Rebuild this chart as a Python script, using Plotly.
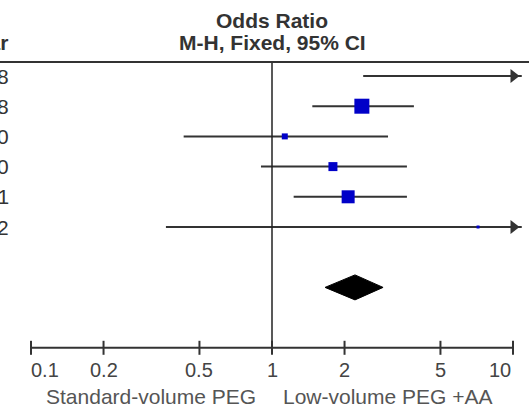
import math
import plotly.graph_objects as go

# ---- data ----
years = ["2008", "2008", "2010", "2010", "2011", "2012"]
or_est = [None, 2.36, 1.13, 1.79, 2.07, 7.16]     # study odds ratio (row 1 off-scale)
ci_low = [2.39, 1.47, 0.43, 0.90, 1.23, 0.363]
ci_high = [None, 3.88, 3.03, 3.63, 3.63, None]     # None = beyond 10 (arrow)
weight_size = [0, 15, 6, 9, 13, 3]                 # marker size reflects study weight
pooled = dict(est=2.21, low=1.66, high=2.89)

tick_vals = [0.1, 0.2, 0.5, 1, 2, 5, 10]
tick_text = ["0.1", "0.2", "0.5", "1", "2", "5", "10"]
left_label = "Standard-volume PEG"
right_label = "Low-volume PEG +AA"
title1 = "Odds Ratio"
title2 = "M-H, Fixed, 95% CI"
col_header = "Year"

# ---- layout geometry ----
W, H = 529, 409
X_RANGE = [-1.1286, 1.0664]          # log10 range
PITCH, ROW0 = 30.2, 76.0
Y_RANGE = [(H - ROW0) / PITCH, -ROW0 / PITCH]
AXIS_ROW = 9.0
POOLED_ROW = 7.0
TOP_ROW = -0.46
FONT = "Liberation Sans, Arial, sans-serif"
LINE_COL = "#333333"
BLUE = "#0000c8"
ARROW_END = 10 ** (X_RANGE[1] - 0.03)
ARROW_HEAD = 10 ** (1 + 0.5 / 241)

fig = go.Figure()

for i in range(len(years)):
    hi = ci_high[i] if ci_high[i] is not None else ARROW_END
    fig.add_trace(go.Scatter(x=[ci_low[i], hi], y=[i, i], mode="lines",
                             line=dict(color=LINE_COL, width=2), hoverinfo="skip",
                             showlegend=False))
    if ci_high[i] is None:
        fig.add_trace(go.Scatter(x=[ARROW_HEAD], y=[i], mode="markers",
                                 marker=dict(symbol="triangle-right", size=12,
                                             color=LINE_COL, line=dict(width=0)),
                                 cliponaxis=False, hoverinfo="skip", showlegend=False))
    if or_est[i] is not None:
        fig.add_trace(go.Scatter(x=[or_est[i]], y=[i], mode="markers",
                                 marker=dict(symbol="square", size=weight_size[i],
                                             color=BLUE, line=dict(width=0)),
                                 showlegend=False))

# pooled diamond
h = 12.5 / PITCH
fig.add_trace(go.Scatter(
    x=[pooled["low"], pooled["est"], pooled["high"], pooled["est"], pooled["low"]],
    y=[POOLED_ROW, POOLED_ROW - h, POOLED_ROW, POOLED_ROW + h, POOLED_ROW],
    mode="lines", fill="toself", fillcolor="black", line=dict(color="black", width=1),
    hoverinfo="skip", showlegend=False))

# line of no effect
fig.add_trace(go.Scatter(x=[1, 1], y=[TOP_ROW, AXIS_ROW], mode="lines",
                         line=dict(color="#222222", width=1.5), hoverinfo="skip",
                         showlegend=False))

# x axis line and ticks
fig.add_trace(go.Scatter(x=[tick_vals[0], tick_vals[-1]], y=[AXIS_ROW, AXIS_ROW],
                         mode="lines", line=dict(color=LINE_COL, width=2),
                         hoverinfo="skip", showlegend=False))
tk = 7 / PITCH
for v in tick_vals:
    fig.add_trace(go.Scatter(x=[v, v], y=[AXIS_ROW - tk, AXIS_ROW + tk], mode="lines",
                             line=dict(color=LINE_COL, width=2), hoverinfo="skip",
                             showlegend=False))

ann = []
for j, (v, t) in enumerate(zip(tick_vals, tick_text)):
    anchor = "left" if j == 0 else ("right" if j == len(tick_vals) - 1 else "center")
    ann.append(dict(x=math.log10(v) - (1.5 / 241 if j == 0 else 0), y=AXIS_ROW + 22 / PITCH,
                    xref="x", yref="y",
                    text=t, showarrow=False, xanchor=anchor, yanchor="middle",
                    font=dict(family=FONT, size=20, color="#444444")))
ann.append(dict(x=math.log10(1) - 14 / 241, y=AXIS_ROW + 49 / PITCH, xref="x", yref="y",
                text=left_label, showarrow=False, xanchor="right", yanchor="middle",
                font=dict(family=FONT, size=21, color="#555555")))
ann.append(dict(x=math.log10(1) + 9 / 241, y=AXIS_ROW + 49 / PITCH, xref="x", yref="y",
                text=right_label, showarrow=False, xanchor="left", yanchor="middle",
                font=dict(family=FONT, size=21, color="#555555")))
ann.append(dict(x=0, y=(20 - ROW0) / PITCH, xref="x", yref="y", text="<b>%s</b>" % title1,
                showarrow=False, xanchor="center", yanchor="middle",
                font=dict(family=FONT, size=21, color="#333333")))
ann.append(dict(x=0, y=(42 - ROW0) / PITCH, xref="x", yref="y", text="<b>%s</b>" % title2,
                showarrow=False, xanchor="center", yanchor="middle",
                font=dict(family=FONT, size=21, color="#333333")))
ann.append(dict(x=10 / W, y=(42 - ROW0) / PITCH, xref="paper", yref="y",
                text="<b>%s</b>" % col_header, showarrow=False, xanchor="right",
                yanchor="middle", font=dict(family=FONT, size=21, color="#333333")))
for i, yr in enumerate(years):
    ann.append(dict(x=11 / W, y=i, xref="paper", yref="y", text=yr, showarrow=False,
                    xanchor="right", yanchor="middle",
                    font=dict(family=FONT, size=21, color="#333333")))

fig.update_layout(
    width=W, height=H, margin=dict(l=0, r=0, t=0, b=0, pad=0),
    paper_bgcolor="white", plot_bgcolor="white", annotations=ann,
    shapes=[dict(type="line", xref="paper", yref="y", x0=0, x1=1, y0=TOP_ROW, y1=TOP_ROW,
                 line=dict(color=LINE_COL, width=2))],
    xaxis=dict(type="log", range=X_RANGE, visible=False, fixedrange=True),
    yaxis=dict(range=Y_RANGE, visible=False, fixedrange=True),
)

fig.write_html("out.html", config={"displayModeBar": False},
               post_script="document.body.style.margin='0';document.body.style.padding='0';")
